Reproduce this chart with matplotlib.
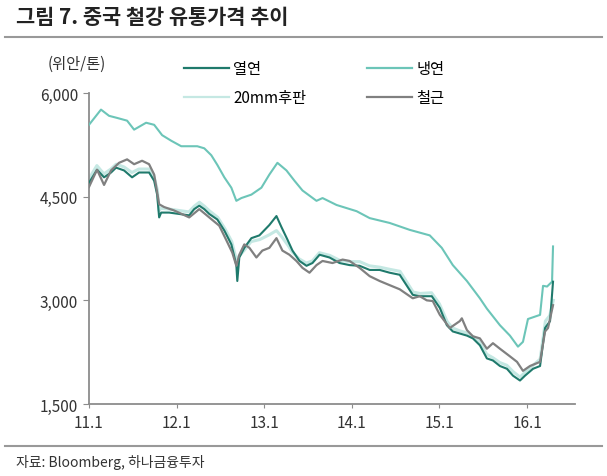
import matplotlib
matplotlib.use("Agg")
import matplotlib.pyplot as plt

plt.rcParams['font.family'] = ['Noto Sans CJK KR', 'DejaVu Sans']

# years since 2011-01 / price (yuan per ton)
t_cr = [0.000, 0.137, 0.229, 0.320, 0.435, 0.515, 0.652, 0.744, 0.835, 0.938,
        1.053, 1.236, 1.316, 1.396, 1.465, 1.545, 1.625, 1.682, 1.739, 1.854,
        1.968, 2.059, 2.151, 2.254, 2.346, 2.437, 2.597, 2.666, 2.826, 3.055,
        3.204, 3.432, 3.661, 3.890, 4.027, 4.153, 4.314, 4.462, 4.542, 4.691,
        4.805, 4.897, 4.954, 5.011, 5.149, 5.183, 5.229, 5.286, 5.297]
v_cr = [5540, 5760, 5670, 5640, 5600, 5470, 5570, 5540, 5390, 5310,
        5230, 5230, 5200, 5100, 4960, 4780, 4630, 4440, 4480, 4530,
        4630, 4820, 4990, 4880, 4730, 4590, 4440, 4480, 4380, 4290,
        4190, 4120, 4020, 3940, 3760, 3510, 3280, 3030, 2880, 2640,
        2490, 2330, 2400, 2730, 2790, 3210, 3200, 3270, 3780]

t_hr = [0.000, 0.092, 0.172, 0.252, 0.309, 0.400, 0.492, 0.572, 0.686, 0.744,
        0.778, 0.801, 0.824, 0.915, 1.030, 1.144, 1.201, 1.259, 1.316, 1.373,
        1.465, 1.545, 1.625, 1.682, 1.693, 1.716, 1.773, 1.854, 1.945, 2.059,
        2.140, 2.197, 2.265, 2.323, 2.403, 2.483, 2.551, 2.632, 2.746, 2.860,
        2.975, 3.089, 3.204, 3.318, 3.432, 3.547, 3.696, 3.776, 3.913, 4.005,
        4.085, 4.153, 4.233, 4.314, 4.382, 4.462, 4.542, 4.611, 4.691, 4.771,
        4.840, 4.920, 4.977, 5.069, 5.149, 5.206, 5.263, 5.297]
v_hr = [4700, 4890, 4780, 4850, 4920, 4880, 4780, 4850, 4850, 4730,
        4530, 4200, 4270, 4270, 4250, 4230, 4320, 4370, 4320, 4250,
        4170, 4010, 3810, 3510, 3280, 3620, 3760, 3900, 3940, 4090,
        4220, 4060, 3880, 3720, 3570, 3500, 3540, 3660, 3620, 3540,
        3510, 3500, 3440, 3440, 3400, 3370, 3080, 3060, 3060, 2890,
        2640, 2550, 2520, 2490, 2450, 2350, 2160, 2130, 2050, 2010,
        1910, 1840, 1910, 2010, 2050, 2600, 2700, 3270]

t_pl = [0.00, 0.09, 0.17, 0.25, 0.31, 0.40, 0.49, 0.57, 0.69, 0.74,
        0.78, 0.80, 0.82, 0.92, 1.03, 1.14, 1.20, 1.26, 1.32, 1.37,
        1.47, 1.55, 1.63, 1.68, 1.72, 1.77, 1.85, 1.95, 2.06, 2.14,
        2.20, 2.27, 2.32, 2.40, 2.48, 2.55, 2.63, 2.75, 2.86, 2.98,
        3.09, 3.20, 3.32, 3.43, 3.55, 3.70, 3.78, 3.91, 4.00, 4.09,
        4.15, 4.23, 4.31, 4.38, 4.46, 4.54, 4.61, 4.69, 4.77, 4.84,
        4.92, 4.98, 5.07, 5.15, 5.21, 5.26, 5.30]
v_pl = [4760, 4950, 4830, 4900, 4970, 4930, 4850, 4900, 4900, 4800,
        4600, 4300, 4330, 4320, 4300, 4280, 4360, 4420, 4360, 4300,
        4200, 4040, 3850, 3600, 3650, 3720, 3850, 3880, 3950, 4010,
        3920, 3800, 3700, 3600, 3540, 3570, 3690, 3650, 3580, 3560,
        3560, 3500, 3480, 3450, 3420, 3120, 3100, 3110, 2950, 2690,
        2600, 2560, 2530, 2480, 2400, 2220, 2170, 2100, 2060, 1970,
        1890, 1960, 2060, 2150, 2700, 2780, 3000]

t_rb = [0.000, 0.092, 0.172, 0.252, 0.343, 0.435, 0.515, 0.606, 0.686, 0.744,
        0.801, 0.858, 0.973, 1.144, 1.259, 1.373, 1.487, 1.568, 1.636, 1.682,
        1.716, 1.773, 1.831, 1.911, 1.979, 2.059, 2.140, 2.208, 2.288, 2.368,
        2.437, 2.517, 2.597, 2.666, 2.780, 2.895, 2.975, 3.089, 3.204, 3.318,
        3.432, 3.547, 3.696, 3.776, 3.856, 3.924, 4.005, 4.119, 4.233, 4.256,
        4.314, 4.382, 4.462, 4.542, 4.611, 4.691, 4.805, 4.886, 4.954, 5.034,
        5.149, 5.206, 5.240, 5.297]
v_rb = [4640, 4890, 4670, 4880, 4990, 5040, 4970, 5020, 4970, 4820,
        4390, 4350, 4300, 4200, 4320, 4200, 4080, 3870, 3690, 3500,
        3660, 3810, 3760, 3620, 3720, 3760, 3900, 3720, 3660, 3570,
        3470, 3400, 3510, 3570, 3540, 3590, 3570, 3470, 3350, 3280,
        3220, 3160, 3030, 3060, 3000, 2990, 2790, 2600, 2700, 2740,
        2570, 2480, 2450, 2300, 2380, 2300, 2190, 2110, 1980, 2050,
        2110, 2550, 2600, 2930]

x_ticks = [0, 1, 2, 3, 4, 5]
x_labels = ['11.1', '12.1', '13.1', '14.1', '15.1', '16.1']
y_ticks = [1500, 3000, 4500, 6000]
y_labels = ['1,500', '3,000', '4,500', '6,000']

c_hr = '#1f7a6c'
c_cr = '#6cc5b8'
c_pl = '#c5e8e3'
c_rb = '#808080'

fig = plt.figure(figsize=(6.07, 4.77), dpi=100)
ax = fig.add_axes([0.1466, 0.1509, 0.8007, 0.652])

ax.plot(t_pl, v_pl, color=c_pl, lw=2.2, label='20mm후판', zorder=2)
ax.plot(t_cr, v_cr, color=c_cr, lw=1.5, label='냉연', zorder=3)
ax.plot(t_hr, v_hr, color=c_hr, lw=1.5, label='열연', zorder=3)
ax.plot(t_rb, v_rb, color=c_rb, lw=1.6, label='철근', zorder=4)

ax.set_xlim(0, 5.548)
ax.set_ylim(1500, 6000)
ax.set_xticks(x_ticks)
ax.set_xticklabels(x_labels)
ax.set_yticks(y_ticks)
ax.set_yticklabels(y_labels)
for s in ['top', 'right']:
    ax.spines[s].set_visible(False)
for s in ['left', 'bottom']:
    ax.spines[s].set_color('#8c8c8c')
    ax.spines[s].set_linewidth(1.3)
ax.tick_params(axis='y', direction='out', length=4, color='#8c8c8c',
               labelsize=11, labelcolor='#333333', pad=4)
ax.tick_params(axis='x', direction='out', length=3, color='#8c8c8c',
               labelsize=11, labelcolor='#333333', pad=4)

h = ax.get_legend_handles_labels()[0]
hd = {l.get_label(): l for l in h}
order = ['열연', '20mm후판', '냉연', '철근']
leg = fig.legend([hd[k] for k in order], order, loc='upper left',
                 bbox_to_anchor=(0.281, 0.900), ncol=2, frameon=False,
                 fontsize=11, handlelength=2.9, handletextpad=0.3,
                 columnspacing=4.0, labelspacing=0.76)
for ln in leg.get_lines():
    ln.set_linewidth(1.6)

fig.text(77 / 607, 1 - 64 / 477, '(위안/톤)', ha='center', va='center',
         fontsize=11, color='#333333')

fig.text(16 / 607, 1 - 18 / 477, '그림 7. 중국 철강 유통가격 추이', ha='left',
         va='center', fontsize=15, fontweight='bold', color='#222222')
fig.add_artist(plt.Line2D([5 / 607, 602 / 607], [1 - 38 / 477, 1 - 38 / 477],
                          color='#999999', lw=1.5))
fig.add_artist(plt.Line2D([5 / 607, 602 / 607], [1 - 447 / 477, 1 - 447 / 477],
                          color='#999999', lw=1.5))
fig.text(16 / 607, 1 - 463 / 477, '자료: Bloomberg, 하나금융투자', ha='left',
         va='center', fontsize=10, color='#333333')

fig.savefig('out.png', dpi=100)
